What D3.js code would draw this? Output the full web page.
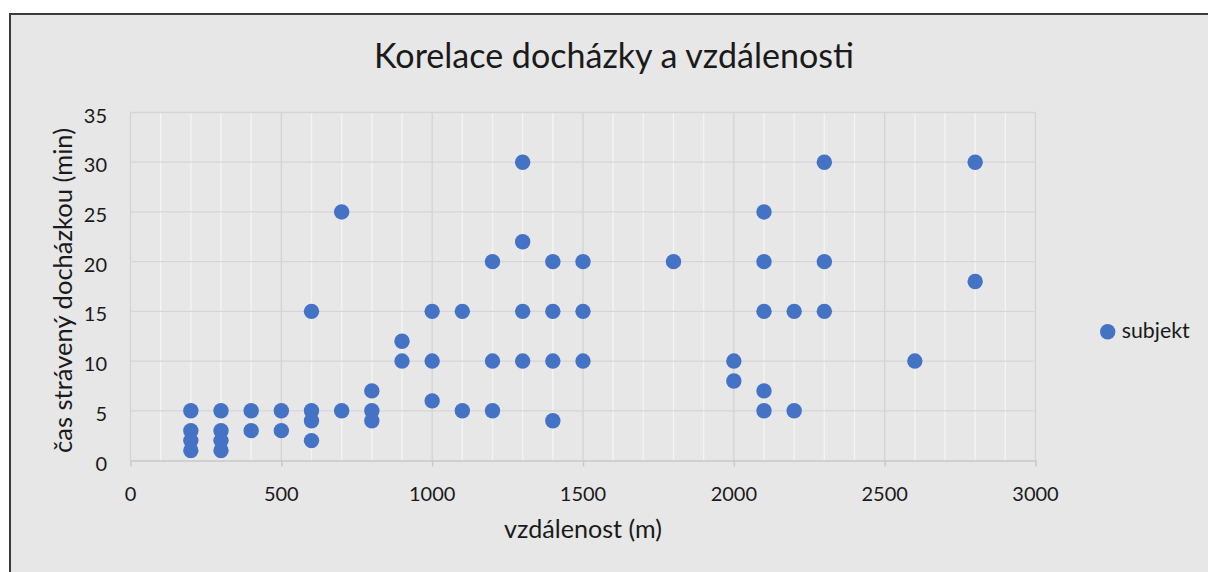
<!DOCTYPE html>
<html>
<head>
<meta charset="utf-8">
<script src="https://cdn.jsdelivr.net/npm/d3@7"></script>
<style>
  html, body { margin: 0; padding: 0; background: #ffffff; }
  svg { display: block; }
  text { font-family: Lato, "Open Sans", sans-serif; fill: #1a1a1a; }
</style>
</head>
<body>
<svg id="chart" width="1208" height="572"></svg>
<script>
// Distance to school (m) and time spent commuting (min) per subject
const distance = [
  200, 200, 200, 200,
  300, 300, 300, 300,
  400, 400,
  500, 500,
  600, 600, 600, 600,
  700, 700,
  800, 800, 800,
  900, 900,
  1000, 1000, 1000,
  1100, 1100,
  1200, 1200, 1200,
  1300, 1300, 1300, 1300,
  1400, 1400, 1400, 1400,
  1500, 1500, 1500,
  1800,
  2000, 2000,
  2100, 2100, 2100, 2100, 2100,
  2200, 2200,
  2300, 2300, 2300,
  2600,
  2800, 2800
];
const minutes = [
  5, 3, 2, 1,
  5, 3, 2, 1,
  5, 3,
  5, 3,
  15, 5, 4, 2,
  25, 5,
  7, 5, 4,
  12, 10,
  15, 10, 6,
  15, 5,
  20, 10, 5,
  30, 22, 15, 10,
  20, 15, 10, 4,
  20, 15, 10,
  20,
  10, 8,
  25, 20, 15, 7, 5,
  15, 5,
  30, 20, 15,
  10,
  30, 18
];
const xTicks = [0, 500, 1000, 1500, 2000, 2500, 3000];
const xMinor = d3.range(100, 3000, 100);
const yTicks = [0, 5, 10, 15, 20, 25, 30, 35];

const chartTitle = "Korelace docházky a vzdálenosti";
const xTitle = "vzdálenost (m)";
const yTitle = "čas strávený docházkou (min)";
const seriesName = "subjekt";

const points = distance.map((d, i) => ({ x: d, y: minutes[i] }));

const svg = d3.select("#chart");
const W = 1208, H = 572;
const plot = { left: 130.5, right: 1035.5, top: 112.5, bottom: 460.5 };
const dotColor = "#4472c4";

// Scale a text's font size so that it spans the given width
function fitWidth(sel, width) {
  const node = sel.node();
  const size = parseFloat(sel.attr("font-size"));
  const len = node.getComputedTextLength();
  if (len > 0) sel.attr("font-size", (size * width / len).toFixed(2));
  return sel;
}

// Chart background with frame
svg.append("rect")
  .attr("x", 10).attr("y", 14)
  .attr("width", W + 20).attr("height", H + 20)
  .attr("fill", "#e7e7e7")
  .attr("stroke", "#3c3c3c")
  .attr("stroke-width", 2);

const x = d3.scaleLinear().domain([0, 3000]).range([plot.left, plot.right]);
const y = d3.scaleLinear().domain([0, 35]).range([plot.bottom, plot.top]);

// Minor vertical gridlines
svg.append("g")
  .selectAll("line")
  .data(xMinor.filter(v => v % 500 !== 0))
  .join("line")
  .attr("x1", d => x(d)).attr("x2", d => x(d))
  .attr("y1", plot.top).attr("y2", plot.bottom)
  .attr("stroke", "#f4f4f4")
  .attr("stroke-width", 1.3);

// Major horizontal gridlines
svg.append("g")
  .selectAll("line")
  .data(yTicks.slice(1))
  .join("line")
  .attr("x1", plot.left).attr("x2", plot.right)
  .attr("y1", d => y(d)).attr("y2", d => y(d))
  .attr("stroke", "#d6d6d6")
  .attr("stroke-width", 1.3);

// Major vertical gridlines
svg.append("g")
  .selectAll("line")
  .data(xTicks)
  .join("line")
  .attr("x1", d => x(d)).attr("x2", d => x(d))
  .attr("y1", plot.top).attr("y2", plot.bottom)
  .attr("stroke", "#d3d3d3")
  .attr("stroke-width", 1.3);

// X axis with outward ticks
const xAxis = d3.axisBottom(x).tickValues(xTicks).tickSize(6).tickFormat("").tickSizeOuter(0);
const gx = svg.append("g").attr("transform", `translate(0,${plot.bottom})`).call(xAxis);
gx.select(".domain").attr("stroke", "#c9c9c9").attr("stroke-width", 1.5);
gx.selectAll(".tick line").attr("stroke", "#c9c9c9").attr("stroke-width", 1.5);

svg.append("g")
  .selectAll("text")
  .data(xTicks)
  .join("text")
  .attr("x", d => x(d))
  .attr("y", 500.5)
  .attr("text-anchor", "middle")
  .attr("font-size", 20)
  .text(d => d);

// Y tick labels
svg.append("g")
  .selectAll("text")
  .data(yTicks)
  .join("text")
  .attr("x", 107)
  .attr("y", d => y(d) + 10)
  .attr("text-anchor", "end")
  .attr("font-size", 20)
  .text(d => d);

// Points
svg.append("g")
  .selectAll("circle")
  .data(points)
  .join("circle")
  .attr("cx", d => x(d.x))
  .attr("cy", d => y(d.y))
  .attr("r", 7.7)
  .attr("fill", dotColor);

// Titles
fitWidth(svg.append("text")
  .attr("x", 614).attr("y", 67.5)
  .attr("text-anchor", "middle")
  .attr("font-size", 34)
  .text(chartTitle), 480);

fitWidth(svg.append("text")
  .attr("x", 583).attr("y", 538)
  .attr("text-anchor", "middle")
  .attr("font-size", 25)
  .text(xTitle), 158);

fitWidth(svg.append("text")
  .attr("transform", "translate(72,290.5) rotate(-90)")
  .attr("text-anchor", "middle")
  .attr("font-size", 24)
  .text(yTitle), 325);

// Legend
const legend = svg.append("g").attr("transform", "translate(1107.7,331.7)");
legend.append("circle").attr("r", 7.7).attr("fill", dotColor);
fitWidth(legend.append("text")
  .attr("x", 14).attr("y", 6)
  .attr("font-size", 21.6)
  .text(seriesName), 68);
</script>
</body>
</html>
